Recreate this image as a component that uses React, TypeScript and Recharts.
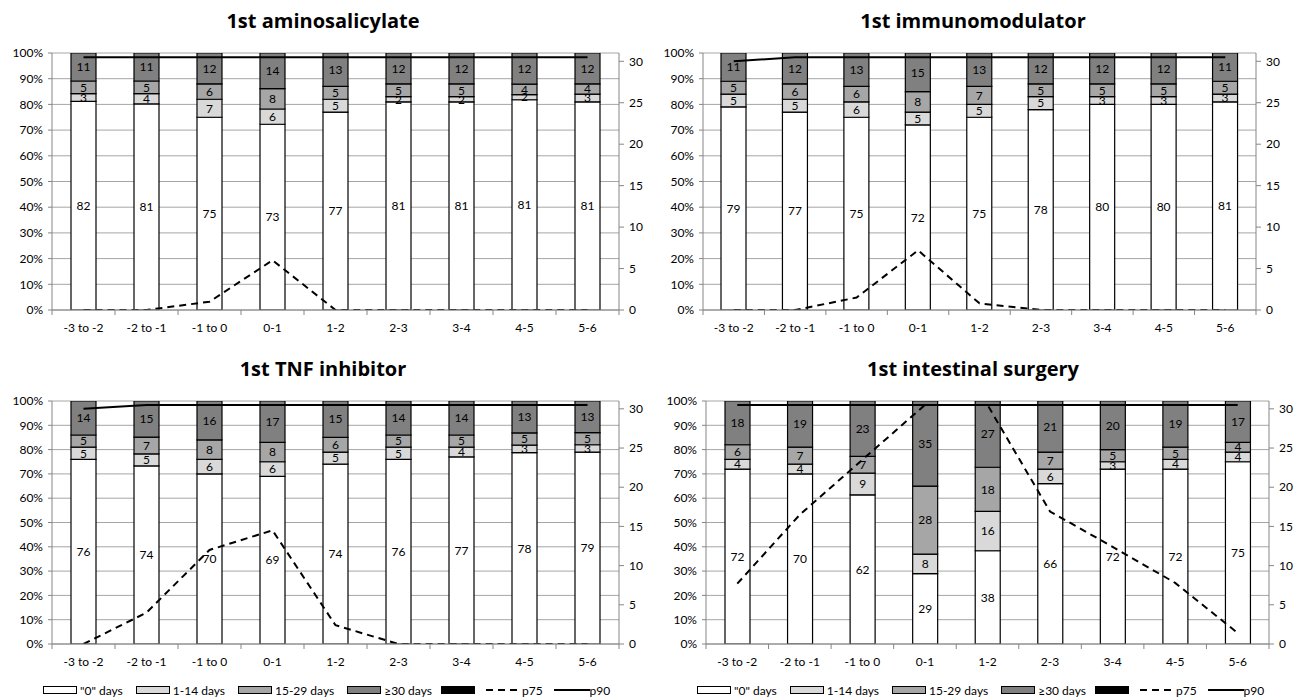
import React from 'react';
import { ComposedChart, Bar, Line, XAxis, YAxis, CartesianGrid, LabelList, Legend } from 'recharts';

const categories = ['-3 to -2', '-2 to -1', '-1 to 0', '0-1', '1-2', '2-3', '3-4', '4-5', '5-6'];
const pctTicks = [0, 10, 20, 30, 40, 50, 60, 70, 80, 90, 100];
const rightTicks = [0, 5, 10, 15, 20, 25, 30];

// aminosalicylate
const amino0 = [82, 81, 75, 73, 77, 81, 81, 81, 81];
const amino1_14 = [3, 4, 7, 6, 5, 2, 2, 2, 3];
const amino15_29 = [5, 5, 6, 8, 5, 5, 5, 4, 4];
const amino30 = [11, 11, 12, 14, 13, 12, 12, 12, 12];
const aminoP75 = [0, 0, 1, 6, 0, 0, 0, 0, 0];
const aminoP90 = [30.5, 30.5, 30.5, 30.5, 30.5, 30.5, 30.5, 30.5, 30.5];

// immunomodulator
const immuno0 = [79, 77, 75, 72, 75, 78, 80, 80, 81];
const immuno1_14 = [5, 5, 6, 5, 5, 5, 3, 3, 3];
const immuno15_29 = [5, 6, 6, 8, 7, 5, 5, 5, 5];
const immuno30 = [11, 12, 13, 15, 13, 12, 12, 12, 11];
const immunoP75 = [0, 0, 1.5, 7.2, 0.8, 0, 0, 0, 0];
const immunoP90 = [30, 30.5, 30.5, 30.5, 30.5, 30.5, 30.5, 30.5, 30.5];

// TNF inhibitor
const tnf0 = [76, 74, 70, 69, 74, 76, 77, 78, 79];
const tnf1_14 = [5, 5, 6, 6, 5, 5, 4, 3, 3];
const tnf15_29 = [5, 7, 8, 8, 6, 5, 5, 5, 5];
const tnf30 = [14, 15, 16, 17, 15, 14, 14, 13, 13];
const tnfP75 = [0, 4, 12, 14.5, 2.4, 0, 0, 0, 0];
const tnfP90 = [30, 30.5, 30.5, 30.5, 30.5, 30.5, 30.5, 30.5, 30.5];

// intestinal surgery
const surg0 = [72, 70, 62, 29, 38, 66, 72, 72, 75];
const surg1_14 = [4, 4, 9, 8, 16, 6, 3, 4, 4];
const surg15_29 = [6, 7, 7, 28, 18, 7, 5, 5, 4];
const surg30 = [18, 19, 23, 35, 27, 21, 20, 19, 17];
const surgP75 = [7.7, 16.5, 23.5, 30.5, 30.5, 16.9, 12.4, 7.8, 1.4];
const surgP90 = [30.5, 30.5, 30.5, 30.5, 30.5, 30.5, 30.5, 30.5, 30.5];

// the printed shares are rounded, so each bar is scaled back to 100%
const buildRows = (d0: number[], d1: number[], d2: number[], d3: number[], p75: number[], p90: number[]) =>
  categories.map((name, i) => {
    const k = 100 / (d0[i] + d1[i] + d2[i] + d3[i]);
    return {
      name,
      d0: d0[i] * k, d1: d1[i] * k, d2: d2[i] * k, d3: d3[i] * k,
      l0: d0[i], l1: d1[i], l2: d2[i], l3: d3[i],
      p75: p75[i], p90: p90[i],
    };
  });

const FONT = 'Lato, "Open Sans", sans-serif';
const AXIS = '#868686';

const makeTick = (band: number, n: number) => (props: any) => {
  const { x, y, payload, index } = props;
  return (
    <g>
      <line x1={x - band / 2} x2={x - band / 2} y1={y} y2={y + 5} stroke={AXIS} />
      {index === n - 1 && <line x1={x + band / 2} x2={x + band / 2} y1={y} y2={y + 5} stroke={AXIS} />}
      <text x={x} y={y + 22} textAnchor="middle" fontSize={12} fill="#000">{payload.value}</text>
    </g>
  );
};

const Swatch = ({ fill }: { fill: string }) => (
  <span style={{ display: 'inline-block', width: 32, height: 6, background: fill, border: '1px solid #000', marginRight: 3 }} />
);

const LegendBox = ({ padLeft }: { padLeft: number }) => (
  <div style={{ display: 'flex', alignItems: 'center', height: 26, paddingLeft: padLeft, paddingTop: 6, boxSizing: 'border-box', fontSize: 12, fontFamily: FONT, color: '#000', whiteSpace: 'nowrap' }}>
    <Swatch fill="#ffffff" /><span style={{ marginRight: 13 }}>"0" days</span>
    <Swatch fill="#d9d9d9" /><span style={{ marginRight: 13 }}>1-14 days</span>
    <Swatch fill="#a6a6a6" /><span style={{ marginRight: 13 }}>15-29 days</span>
    <Swatch fill="#808080" /><span style={{ marginRight: 9 }}>≥30 days</span>
    <Swatch fill="#000000" />
    <svg width={36} height={8} style={{ marginLeft: 8 }}><line x1={0} x2={36} y1={4} y2={4} stroke="#000" strokeWidth={2} strokeDasharray="7 5" /></svg>
    <span style={{ marginRight: 11 }}>p75</span>
    <svg width={36} height={8}><line x1={0} x2={36} y1={4} y2={4} stroke="#000" strokeWidth={2} /></svg>
    <span>p90</span>
  </div>
);

interface PanelProps {
  title: string;
  rows: any[];
  left: number;
  top: number;
  plotLeft: number;
  plotRight: number;
  plotTop: number;
  height: number;
  legend?: boolean;
  legendPad?: number;
}

const Panel: React.FC<PanelProps> = ({ title, rows, left, top, plotLeft, plotRight, plotTop, height, legend, legendPad = 43 }) => {
  const width = 650;
  const band = (plotRight - plotLeft) / categories.length;
  const mLeft = plotLeft - 44;
  const mRight = width - plotRight - 31;
  return (
    <div style={{ position: 'absolute', left, top, width, height }}>
      <div style={{ position: 'absolute', left: 0, width: 646, top: plotTop - 45, textAlign: 'center', fontFamily: '"Open Sans", sans-serif', fontSize: 20, fontWeight: 700, lineHeight: '26px' }}>
        {title}
      </div>
      <ComposedChart width={width} height={height} data={rows} margin={{ top: plotTop, right: mRight, left: mLeft, bottom: 0 }}>
        <CartesianGrid yAxisId="left" vertical={false} stroke="#a6a6a6" />
        <XAxis dataKey="name" height={30} axisLine={{ stroke: AXIS }} tickLine={false} tickSize={0} tickMargin={0} interval={0} tick={makeTick(band, categories.length)} />
        <YAxis yAxisId="left" width={44} domain={[0, 100]} ticks={pctTicks} allowDataOverflow tickFormatter={(v: number) => `${v}%`} axisLine={{ stroke: AXIS }} tickLine={{ stroke: AXIS }} tickSize={4} tickMargin={5} tick={{ fill: '#000', fontSize: 12 }} />
        <YAxis yAxisId="right" orientation="right" width={31} domain={[0, 31]} ticks={rightTicks} allowDataOverflow axisLine={{ stroke: AXIS }} tickLine={{ stroke: AXIS }} tickSize={5} tickMargin={5} tick={{ fill: '#000', fontSize: 12, textAnchor: 'start' }} />
        <Bar yAxisId="left" dataKey="d0" stackId="s" barSize={25} fill="#ffffff" stroke="#000" strokeWidth={1.2} isAnimationActive={false}>
          <LabelList dataKey="l0" position="center" fill="#000" fontSize={12} />
        </Bar>
        <Bar yAxisId="left" dataKey="d1" stackId="s" barSize={25} fill="#d9d9d9" stroke="#000" strokeWidth={1.2} isAnimationActive={false}>
          <LabelList dataKey="l1" position="center" fill="#000" fontSize={12} />
        </Bar>
        <Bar yAxisId="left" dataKey="d2" stackId="s" barSize={25} fill="#a6a6a6" stroke="#000" strokeWidth={1.2} isAnimationActive={false}>
          <LabelList dataKey="l2" position="center" fill="#000" fontSize={12} />
        </Bar>
        <Bar yAxisId="left" dataKey="d3" stackId="s" barSize={25} fill="#808080" stroke="#000" strokeWidth={1.2} isAnimationActive={false}>
          <LabelList dataKey="l3" position="center" fill="#000" fontSize={12} />
        </Bar>
        <Line yAxisId="right" dataKey="p75" stroke="#000" strokeWidth={2} strokeDasharray="7 5" dot={false} activeDot={false} isAnimationActive={false} />
        <Line yAxisId="right" dataKey="p90" stroke="#000" strokeWidth={2} dot={false} activeDot={false} isAnimationActive={false} />
        {legend && <Legend verticalAlign="bottom" wrapperStyle={{ left: 0, width: 650, bottom: 0 }} content={() => <LegendBox padLeft={legendPad} />} />}
      </ComposedChart>
    </div>
  );
};

export default function App() {
  return (
    <div style={{ position: 'absolute', left: 0, top: 0, width: 1300, height: 700, background: '#fff', fontFamily: FONT, color: '#000' }}>
      <Panel title="1st aminosalicylate" rows={buildRows(amino0, amino1_14, amino15_29, amino30, aminoP75, aminoP90)} left={0} top={0} plotLeft={52} plotRight={619} plotTop={53} height={340} />
      <Panel title="1st immunomodulator" rows={buildRows(immuno0, immuno1_14, immuno15_29, immuno30, immunoP75, immunoP90)} left={650} top={0} plotLeft={53} plotRight={606} plotTop={53} height={340} />
      <Panel title="1st TNF inhibitor" rows={buildRows(tnf0, tnf1_14, tnf15_29, tnf30, tnfP75, tnfP90)} left={0} top={350} plotLeft={52} plotRight={619} plotTop={51} height={350} legend legendPad={43} />
      <Panel title="1st intestinal surgery" rows={buildRows(surg0, surg1_14, surg15_29, surg30, surgP75, surgP90)} left={650} top={350} plotLeft={56} plotRight={619} plotTop={51} height={350} legend legendPad={47} />
    </div>
  );
}
